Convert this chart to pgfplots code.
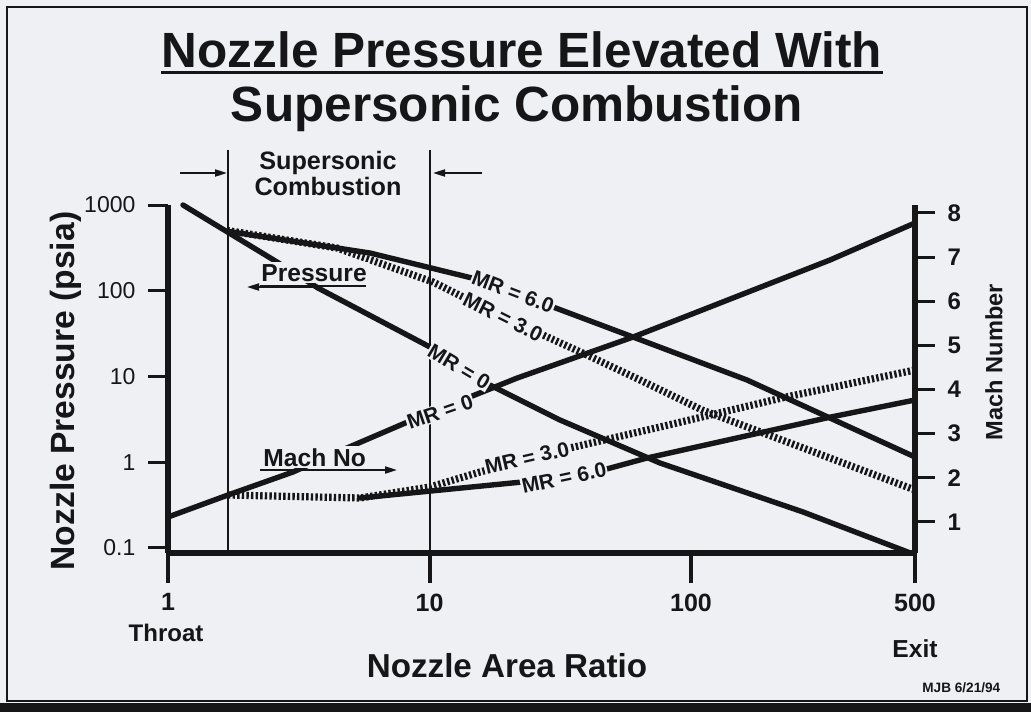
\documentclass[border=0pt]{standalone}
\usepackage{fontspec}
\setmainfont{Liberation Sans}
\usepackage{pgfplots}
\pgfplotsset{compat=1.18}
\usetikzlibrary{arrows.meta}
\definecolor{bg}{RGB}{238,240,244}
\definecolor{ink}{RGB}{22,22,24}
\tikzset{
  solidline/.style={line width=2.7pt, color=ink, line join=round, line cap=round},
  hatchline/.style={line width=3.6pt, color=ink, dash pattern=on 1.2pt off 1.1pt, line join=round},
  mr/.style={fill=bg, inner sep=0.5pt, text=ink, font=\bfseries\fontsize{10.5}{12}\selectfont},
}
\begin{document}
\begin{tikzpicture}
% ---------- page background and frame (pixel units) ----------
\begin{scope}[x=0.5pt,y=-0.5pt]
  \fill[bg] (0,0) rectangle (1031,712);
  \draw[line width=1pt, ink] (7,7) rectangle (1027,701);
  \fill[ink] (0,703) rectangle (1031,712);
\end{scope}

% ---------- Pressure axis (left, log-log) ----------
\begin{axis}[
  at={(84pt,-276.5pt)}, anchor=south west,
  scale only axis, width=373.5pt, height=174pt,
  xmode=log, ymode=log,
  xmin=1, xmax=719, ymin=0.0874, ymax=1000,
  axis x line=bottom, axis y line=left,
  axis line style={-, line width=2.6pt, ink},
  every outer x axis line/.append style={-},
  every outer y axis line/.append style={-},
  xtick={1,10,100,719},
  xticklabels={\mbox{1},\mbox{10},\mbox{100},\mbox{500}},
  ytick={0.1,1,10,100,1000},
  yticklabels={\mbox{0.1},\mbox{1},\mbox{10},\mbox{100},\mbox{1000}},
  xminorticks=false, yminorticks=false,
  tick align=outside,
  x tick style={line width=2pt, ink, /pgfplots/major tick length=15pt},
  y tick style={line width=1.5pt, ink, /pgfplots/major tick length=10pt},
  xticklabel style={font=\bfseries\fontsize{12.5}{14}\selectfont, text=ink, yshift=-12.5pt},
  yticklabel style={font=\fontsize{11.5}{13}\selectfont, text=ink, xshift=-8.5pt},
  clip=false,
]
% supersonic combustion boundaries
\addplot[line width=1pt, ink] coordinates {(1.696,0.0874) (1.696,4378)};
\addplot[line width=1pt, ink] coordinates {(10,0.0874) (10,4378)};
% MR = 0 pressure
\addplot[solidline] coordinates {
(1.141,1000) (2.611,216.4) (3.746,107.7) (10.04,22.08) (17.03,7.96)
(31.55,3.109) (76.11,0.980) (268.2,0.263) (690,0.0874)};
% MR = 6.0 pressure
\addplot[solidline] coordinates {
(1.681,495) (5.923,275.5) (14.54,140.8) (29.67,64.65) (60.0,28.87)
(163.8,9.104) (719,1.151)};
% MR = 3.0 pressure
\addplot[hatchline] coordinates {
(1.681,505) (4.43,315.1) (10.31,126.5) (13.43,84.6) (27.17,30.48)
(40.03,17.81) (63.83,9.104) (110.2,4.067) (719,0.4747)};
\end{axis}

% ---------- Mach number axis (right) ----------
\begin{axis}[
  at={(84pt,-276.5pt)}, anchor=south west,
  scale only axis, width=373.5pt, height=174pt,
  xmode=log, xmin=1, xmax=719, ymin=0.297, ymax=8.18,
  axis x line=none, axis y line=right,
  axis line style={-, line width=2.6pt, ink},
  every outer y axis line/.append style={-},
  ytick={1,2,3,4,5,6,7,8},
  yminorticks=false,
  tick align=outside,
  y tick style={line width=1.5pt, ink, /pgfplots/major tick length=10pt},
  yticklabel style={font=\bfseries\fontsize{12}{14}\selectfont, text=ink, xshift=8.5pt},
  /pgf/number format/assume math mode=true,
  clip=false,
]
% MR = 0 Mach
\addplot[solidline] coordinates {
(1,1.112) (1.696,1.611) (3.006,2.132) (4.836,2.676) (8.423,3.288)
(21.61,4.259) (60.0,5.188) (340.1,6.934) (719,7.773)};
% MR = 6.0 Mach
\addplot[solidline] coordinates {
(5.423,1.543) (22.58,1.905) (46.08,2.177) (67.89,2.449) (343.1,3.378) (719,3.763)};
% MR = 3.0 Mach
\addplot[hatchline] coordinates {
(1.696,1.611) (5.423,1.543) (10.04,1.792) (15.60,2.132) (34.45,2.676)
(76.11,3.151) (230.8,3.831) (719,4.443)};
\end{axis}

% ---------- annotations (pixel units) ----------
\begin{scope}[x=0.5pt,y=-0.5pt]
  % curve labels
  \node[mr, rotate=-21]   at (513,292) {MR = 6.0};
  \node[mr, rotate=-26.5] at (503,317) {MR = 3.0};
  \node[mr, rotate=-31]   at (459,367) {MR = 0};
  \node[mr, rotate=19]    at (440,412) {MR = 0};
  \node[mr, rotate=13]    at (527,458) {MR = 3.0};
  \node[mr, rotate=12]    at (564,478) {MR = 6.0};
  % title
  \node[anchor=base, inner sep=0pt, text=ink, font=\bfseries\fontsize{24.75}{28}\selectfont] (t1) at (522,67) {Nozzle Pressure Elevated With};
  \draw[line width=1.5pt, ink] ([yshift=-2.6pt]t1.base west) -- ([yshift=-2.6pt]t1.base east);
  \node[anchor=base, inner sep=0pt, text=ink, font=\bfseries\fontsize{24.75}{28}\selectfont] at (517,121) {Supersonic Combustion};
  % supersonic combustion zone
  \node[anchor=base, inner sep=0pt, text=ink, font=\bfseries\fontsize{12.6}{14}\selectfont] at (328,169) {Supersonic};
  \node[anchor=base, inner sep=0pt, text=ink, font=\bfseries\fontsize{12.6}{14}\selectfont] at (328,195) {Combustion};
  \draw[line width=1pt, ink, -{Triangle[length=6pt,width=3.5pt]}] (180,173) -- (227,173);
  \draw[line width=1pt, ink, -{Triangle[length=6pt,width=3.5pt]}] (482,173) -- (433,173);
  % Pressure / Mach No callouts
  \node[anchor=base west, fill=bg, inner sep=1pt, text=ink, font=\bfseries\fontsize{12.3}{14}\selectfont] at (259,281) {Pressure};
  \draw[line width=1pt, ink] (260,286) -- (366,286);
  \draw[line width=1pt, ink, -{Triangle[length=6pt,width=3.5pt]}] (318,287) -- (247,287);
  \node[anchor=base west, fill=bg, inner sep=1pt, text=ink, font=\bfseries\fontsize{12.3}{14}\selectfont] at (261,466) {Mach No};
  \draw[line width=1pt, ink, -{Triangle[length=6pt,width=3.5pt]}] (260,470) -- (397,470);
  % axis titles
  \node[rotate=90, text=ink, font=\bfseries\fontsize{16.8}{18}\selectfont] at (66,391) {Nozzle Pressure (psia)};
  \node[anchor=base, inner sep=0pt, text=ink, font=\bfseries\fontsize{16.6}{18}\selectfont] at (507,677) {Nozzle Area Ratio};
  \node[rotate=90, text=ink, font=\bfseries\fontsize{11.8}{13}\selectfont] at (994,362) {Mach Number};
  \node[anchor=base, inner sep=0pt, text=ink, font=\bfseries\fontsize{12}{14}\selectfont] at (166,641) {Throat};
  \node[anchor=base, inner sep=0pt, text=ink, font=\bfseries\fontsize{12.3}{14}\selectfont] at (915,657) {Exit};
  \node[anchor=base west, inner sep=0pt, text=ink, font=\bfseries\fontsize{6.8}{8}\selectfont] at (922,692) {MJB 6/21/94};
  \pgfresetboundingbox
  \useasboundingbox (0,0) rectangle (1031,712);
\end{scope}
\end{tikzpicture}
\end{document}
